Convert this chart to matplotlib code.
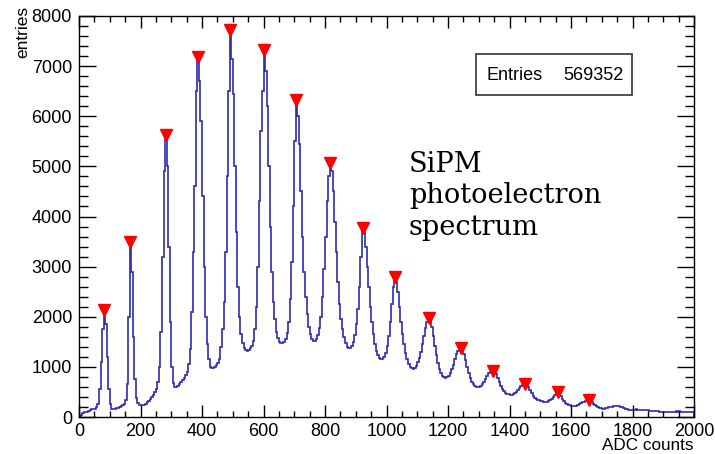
import numpy as np
import matplotlib
matplotlib.use('Agg')
import matplotlib.pyplot as plt
from matplotlib.patches import Rectangle
from matplotlib.ticker import MultipleLocator

plt.rcParams['font.family'] = ['Liberation Sans', 'DejaVu Sans']

# histogram: 400 bins of 5 ADC counts
bin_width = 5
counts = [
    # 0 - 95
    15, 40, 70, 90, 100, 105, 120, 135, 150, 155, 160, 190, 260, 550, 1100, 1750, 2100, 1850, 1200, 550,
    # 100 - 195
    250, 160, 150, 155, 170, 180, 195, 210, 230, 260, 330, 650, 2000, 3450, 2900, 1600, 750, 380, 280, 245,
    # 200 - 295
    235, 230, 240, 260, 290, 320, 360, 400, 440, 490, 560, 700, 1000, 1700, 3200, 4900, 5600, 5000, 3400, 1900,
    # 300 - 395
    1000, 680, 600, 600, 620, 650, 690, 730, 780, 830, 900, 1050, 1350, 2100, 3300, 4600, 6500, 7200, 6700, 5900,
    # 400 - 495
    4400, 3000, 2000, 1450, 1150, 990, 970, 980, 1000, 1040, 1080, 1150, 1400, 1750, 2300, 3300, 4800, 6500, 7700, 7150,
    # 500 - 595
    6450, 5000, 3700, 2600, 2000, 1650, 1480, 1380, 1330, 1320, 1340, 1370, 1420, 1520, 1750, 2200, 3000, 4300, 5700, 6500,
    # 600 - 695
    7300, 6900, 6200, 5000, 3800, 2900, 2300, 1950, 1700, 1570, 1500, 1470, 1480, 1500, 1560, 1680, 1900, 2350, 3100, 4200,
    # 700 - 795
    5500, 6300, 6000, 5450, 4500, 3600, 2900, 2400, 2050, 1800, 1650, 1560, 1510, 1520, 1560, 1640, 1780, 2000, 2400, 2950,
    # 800 - 895
    3600, 4300, 4800, 5050, 4900, 4500, 3900, 3300, 2700, 2250, 1950, 1750, 1600, 1480, 1400, 1370, 1380, 1420, 1500, 1630,
    # 900 - 995
    1850, 2150, 2600, 3200, 3750, 3700, 3400, 3000, 2600, 2200, 1900, 1650, 1450, 1320, 1230, 1170, 1150, 1160, 1200, 1280,
    # 1000 - 1095
    1420, 1620, 1900, 2250, 2600, 2780, 2700, 2500, 2200, 1900, 1650, 1450, 1280, 1150, 1060, 1000, 970, 965, 980, 1020,
    # 1100 - 1195
    1090, 1180, 1300, 1450, 1620, 1780, 1900, 1960, 1920, 1800, 1620, 1420, 1230, 1080, 960, 880, 820, 790, 780, 790,
    # 1200 - 1295
    820, 870, 950, 1040, 1150, 1250, 1320, 1360, 1370, 1330, 1250, 1130, 1000, 880, 780, 700, 650, 620, 600, 595,
    # 1300 - 1395
    600, 620, 650, 700, 760, 820, 870, 900, 915, 920, 900, 850, 780, 700, 620, 560, 510, 480, 460, 450,
    # 1400 - 1495
    440, 440, 450, 470, 500, 540, 580, 610, 635, 645, 650, 630, 590, 530, 470, 420, 385, 360, 345, 330,
    # 1500 - 1595
    320, 310, 305, 300, 300, 310, 330, 360, 400, 440, 460, 470, 450, 410, 360, 310, 275, 255, 240, 230,
    # 1600 - 1695
    220, 215, 215, 220, 235, 250, 270, 290, 305, 315, 320, 320, 310, 290, 265, 240, 215, 195, 180, 170,
    # 1700 - 1795
    165, 165, 170, 180, 190, 200, 205, 210, 215, 215, 215, 210, 205, 195, 180, 165, 150, 145, 140, 135,
    # 1800 - 1895
    135, 140, 150, 145, 140, 145, 140, 135, 130, 140, 135, 125, 120, 115, 115, 110, 110, 105, 100, 100,
    # 1900 - 1995
    95, 100, 95, 100, 95, 90, 95, 100, 110, 105, 110, 100, 95, 100, 95, 100, 100, 105, 100, 95,
]
edges = np.arange(0, 2000 + bin_width, bin_width)

# peaks found (red markers)
peak_adc = [82, 167, 282, 387, 492, 602, 707, 817, 922, 1027, 1137, 1242, 1347, 1452, 1557, 1657]
peak_counts = [2130, 3490, 5630, 7185, 7725, 7325, 6330, 5070, 3770, 2795, 1975, 1375, 920, 660, 500, 340]

n_entries = 569352

W, H = 715, 454
fig = plt.figure(figsize=(W / 100, H / 100), dpi=100)
ax = fig.add_axes([79 / W, 37 / H, 615 / W, 401 / H])

ax.stairs(counts, edges, color='#2b2bb5', lw=1.2)
ax.plot(peak_adc, peak_counts, 'v', color='red', ms=8.5, mec='red', clip_on=False, zorder=5)

ax.set_xlim(0, 2000)
ax.set_ylim(0, 8000)
ax.xaxis.set_major_locator(MultipleLocator(200))
ax.xaxis.set_minor_locator(MultipleLocator(50))
ax.yaxis.set_major_locator(MultipleLocator(1000))
ax.yaxis.set_minor_locator(MultipleLocator(200))

ax.tick_params(which='both', direction='in', top=True, right=True, width=1.0, labelsize=13)
ax.tick_params(axis='x', which='major', length=8.6, pad=4)
ax.tick_params(axis='x', which='minor', length=4.3)
ax.tick_params(axis='y', which='major', length=12, pad=5)
ax.tick_params(axis='y', which='minor', length=6.5)
for sp in ax.spines.values():
    sp.set_linewidth(1.0)

fig.text(23 / W, 1 - 6 / H, 'entries', rotation=90, ha='center', va='top', fontsize=12.5)
fig.text(694 / W, 1 - 450 / H, 'ADC counts', ha='right', va='baseline', fontsize=12.3)

# stats box
fig.patches.append(Rectangle((476 / W, 1 - 95 / H), 156 / W, 41 / H, transform=fig.transFigure,
                             facecolor='white', edgecolor='#333333', lw=1.2))
fig.text(486 / W, 1 - 75 / H, 'Entries', ha='left', va='center', fontsize=13)
fig.text(624 / W, 1 - 75 / H, str(n_entries), ha='right', va='center', fontsize=13)

for txt, yb in zip(['SiPM', 'photoelectron', 'spectrum'], [171.7, 203.4, 235.1]):
    fig.text(409 / W, 1 - yb / H, txt, ha='left', va='baseline', fontsize=19.6, family='DejaVu Serif')

fig.savefig('out.png', dpi=100)
